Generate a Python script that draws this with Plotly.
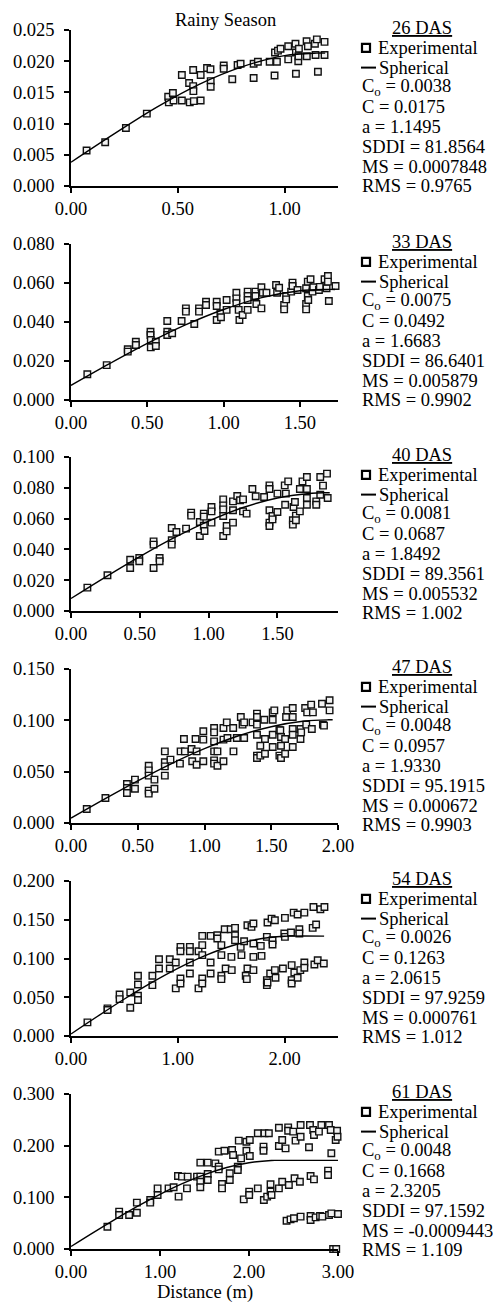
import plotly.graph_objects as go
from plotly.subplots import make_subplots

# ---- data (distance in m, semivariance) ----
x26 = [0.073,0.160,0.257,0.355,0.455,0.458,0.477,0.480,0.519,0.519,0.553,0.556,0.572,0.572,0.573,0.575,0.607,0.607,0.637,0.653,0.654,0.654,0.715,0.715,0.755,0.780,0.794,0.855,0.855,0.875,0.930,0.953,0.955,0.964,0.969,0.981,1.017,1.017,1.051,1.053,1.053,1.064,1.065,1.067,1.103,1.104,1.109,1.142,1.145,1.151,1.156,1.187,1.187]
y26 = [0.0057,0.0070,0.0093,0.0116,0.0143,0.0134,0.0149,0.0137,0.0178,0.0137,0.0165,0.0134,0.0186,0.0160,0.0152,0.0136,0.0178,0.0137,0.0189,0.0187,0.0168,0.0159,0.0193,0.0188,0.0171,0.0194,0.0196,0.0173,0.0196,0.0199,0.0199,0.0177,0.0214,0.0199,0.0217,0.0220,0.0224,0.0203,0.0228,0.0214,0.0180,0.0200,0.0208,0.0220,0.0232,0.0208,0.0224,0.0228,0.0210,0.0235,0.0183,0.0231,0.0210]

x33 = [0.107,0.234,0.372,0.372,0.425,0.425,0.521,0.521,0.523,0.523,0.556,0.556,0.631,0.631,0.631,0.663,0.725,0.753,0.753,0.808,0.839,0.839,0.885,0.885,0.955,0.955,0.955,0.979,0.983,1.020,1.020,1.084,1.084,1.084,1.099,1.104,1.125,1.158,1.158,1.158,1.158,1.209,1.209,1.215,1.248,1.248,1.257,1.281,1.344,1.351,1.364,1.397,1.397,1.410,1.410,1.443,1.452,1.452,1.485,1.541,1.541,1.541,1.552,1.552,1.555,1.570,1.583,1.588,1.625,1.631,1.662,1.675,1.684,1.684,1.690,1.734]
y33 = [0.0132,0.0179,0.0260,0.0248,0.0299,0.0282,0.0350,0.0333,0.0308,0.0270,0.0299,0.0277,0.0405,0.0350,0.0333,0.0342,0.0405,0.0470,0.0453,0.0390,0.0470,0.0453,0.0504,0.0487,0.0504,0.0482,0.0410,0.0444,0.0424,0.0513,0.0462,0.0550,0.0521,0.0496,0.0462,0.0410,0.0436,0.0556,0.0533,0.0513,0.0462,0.0556,0.0533,0.0492,0.0578,0.0470,0.0550,0.0550,0.0590,0.0550,0.0576,0.0487,0.0465,0.0533,0.0516,0.0556,0.0602,0.0585,0.0564,0.0573,0.0492,0.0465,0.0607,0.0533,0.0513,0.0619,0.0556,0.0578,0.0564,0.0580,0.0619,0.0573,0.0636,0.0607,0.0508,0.0585]

x40 = [0.119,0.265,0.430,0.430,0.496,0.496,0.600,0.600,0.600,0.644,0.644,0.732,0.732,0.732,0.766,0.836,0.873,0.873,0.936,0.936,0.965,0.965,0.965,0.970,1.021,1.021,1.021,1.106,1.106,1.106,1.106,1.106,1.131,1.131,1.177,1.177,1.177,1.208,1.228,1.250,1.250,1.276,1.318,1.342,1.403,1.442,1.442,1.442,1.442,1.442,1.464,1.464,1.500,1.500,1.553,1.556,1.561,1.578,1.612,1.612,1.617,1.627,1.634,1.634,1.663,1.663,1.682,1.714,1.714,1.714,1.714,1.782,1.782,1.811,1.811,1.831,1.860,1.865]
y40 = [0.0152,0.0232,0.0333,0.0279,0.0344,0.0323,0.0452,0.0431,0.0279,0.0344,0.0323,0.0539,0.0459,0.0431,0.0513,0.0535,0.0639,0.0619,0.0578,0.0487,0.0632,0.0613,0.0554,0.0519,0.0675,0.0647,0.0574,0.0725,0.0686,0.0660,0.0617,0.0487,0.0552,0.0517,0.0712,0.0654,0.0574,0.0747,0.0719,0.0725,0.0647,0.0632,0.0792,0.0745,0.0740,0.0816,0.0792,0.0654,0.0574,0.0552,0.0617,0.0595,0.0762,0.0643,0.0816,0.0690,0.0762,0.0842,0.0589,0.0561,0.0675,0.0708,0.0619,0.0589,0.0792,0.0647,0.0842,0.0870,0.0792,0.0734,0.0690,0.0712,0.0690,0.0870,0.0755,0.0814,0.0892,0.0734]

x47 = [0.118,0.258,0.419,0.419,0.419,0.479,0.479,0.582,0.582,0.582,0.582,0.582,0.625,0.625,0.703,0.703,0.703,0.703,0.745,0.816,0.821,0.846,0.853,0.903,0.908,0.933,0.941,0.941,0.991,0.991,0.991,1.072,1.072,1.072,1.072,1.072,1.072,1.097,1.097,1.142,1.142,1.142,1.167,1.172,1.215,1.217,1.242,1.272,1.285,1.297,1.297,1.360,1.393,1.393,1.393,1.393,1.393,1.393,1.418,1.418,1.448,1.453,1.453,1.511,1.511,1.511,1.511,1.523,1.561,1.561,1.568,1.573,1.573,1.573,1.604,1.604,1.611,1.619,1.661,1.661,1.661,1.661,1.661,1.719,1.719,1.724,1.754,1.762,1.769,1.799,1.804,1.812,1.880,1.887,1.895,1.937,1.937]
y47 = [0.0136,0.0244,0.0380,0.0341,0.0292,0.0334,0.0422,0.0558,0.0513,0.0461,0.0315,0.0286,0.0422,0.0334,0.0698,0.0591,0.0552,0.0461,0.0617,0.0578,0.0698,0.0818,0.0698,0.0721,0.0601,0.0818,0.0568,0.0698,0.0893,0.0812,0.0601,0.0925,0.0883,0.0795,0.0698,0.0610,0.0578,0.0698,0.0558,0.0925,0.0812,0.0601,0.0980,0.0828,0.0925,0.0698,0.0828,0.1032,0.0958,0.0980,0.0828,0.0980,0.1065,0.1032,0.0958,0.0860,0.0656,0.0633,0.0753,0.0656,0.1006,0.0818,0.0675,0.1078,0.1006,0.0860,0.0740,0.1097,0.0903,0.0656,0.0903,0.0838,0.0753,0.0633,0.0818,0.0675,0.1032,0.1097,0.1120,0.1032,0.0916,0.0860,0.0740,0.0916,0.0818,0.0883,0.1120,0.0958,0.1078,0.1153,0.0916,0.1078,0.1162,0.0958,0.0948,0.1195,0.1097]

x54 = [0.154,0.342,0.342,0.455,0.455,0.555,0.555,0.627,0.627,0.627,0.627,0.762,0.762,0.824,0.824,0.925,0.925,0.981,0.981,1.025,1.025,1.025,1.025,1.113,1.113,1.113,1.113,1.194,1.194,1.229,1.229,1.229,1.229,1.229,1.307,1.307,1.307,1.370,1.370,1.408,1.408,1.408,1.408,1.439,1.448,1.495,1.502,1.505,1.536,1.536,1.536,1.589,1.596,1.621,1.636,1.646,1.652,1.652,1.690,1.708,1.708,1.708,1.708,1.777,1.784,1.834,1.834,1.834,1.840,1.840,1.865,1.878,1.887,1.887,1.909,1.909,1.915,1.984,1.997,2.003,2.003,2.060,2.066,2.066,2.066,2.085,2.091,2.122,2.122,2.138,2.138,2.147,2.185,2.185,2.185,2.263,2.270,2.279,2.295,2.310,2.335,2.367,2.373]
y54 = [0.0176,0.0356,0.0335,0.0536,0.0476,0.0562,0.0365,0.0777,0.0665,0.0519,0.0464,0.0777,0.0657,0.0991,0.0871,0.0991,0.0871,0.0948,0.0614,0.1150,0.1094,0.0742,0.0678,0.1150,0.1094,0.0948,0.0807,0.1094,0.0614,0.1292,0.1172,0.1043,0.0742,0.0678,0.1292,0.0948,0.0807,0.1300,0.1258,0.1172,0.1043,0.0777,0.0734,0.1378,0.0871,0.1378,0.1021,0.0850,0.1395,0.1300,0.1236,0.1150,0.1043,0.1223,0.0777,0.0734,0.0871,0.1429,0.1408,0.1451,0.1193,0.1021,0.0850,0.1163,0.1034,0.1279,0.0721,0.0657,0.1464,0.0691,0.0807,0.1515,0.1236,0.1180,0.1494,0.0850,0.0751,0.0871,0.1322,0.1279,0.1524,0.1335,0.0914,0.0721,0.0678,0.1592,0.0820,0.1567,0.0751,0.1378,0.1322,0.0850,0.1592,0.0948,0.0880,0.1395,0.1665,0.0923,0.1438,0.0978,0.1635,0.0935,0.1665]

x61 = [0.409,0.541,0.541,0.653,0.740,0.740,0.890,0.890,0.973,0.973,1.096,1.153,1.202,1.209,1.247,1.303,1.311,1.416,1.453,1.453,1.453,1.453,1.536,1.536,1.536,1.622,1.660,1.660,1.660,1.697,1.697,1.724,1.784,1.784,1.810,1.821,1.874,1.874,1.885,1.911,1.941,1.971,1.971,2.002,2.002,2.009,2.009,2.099,2.099,2.163,2.163,2.167,2.174,2.204,2.223,2.242,2.242,2.253,2.336,2.336,2.336,2.373,2.373,2.411,2.422,2.440,2.440,2.448,2.467,2.497,2.505,2.512,2.523,2.572,2.580,2.580,2.580,2.674,2.685,2.692,2.692,2.692,2.722,2.730,2.730,2.749,2.786,2.798,2.813,2.824,2.888,2.888,2.899,2.899,2.918,2.925,2.925,2.945,2.974,2.980,2.990,2.995,3.000]
y61 = [0.0432,0.0723,0.0658,0.0658,0.0897,0.0703,0.0948,0.0897,0.1045,0.1174,0.1174,0.1194,0.1413,0.1013,0.1400,0.1174,0.1400,0.1400,0.1671,0.1400,0.1303,0.1194,0.1671,0.1452,0.1335,0.1658,0.1884,0.1594,0.1542,0.1258,0.1174,0.1903,0.1465,0.1335,0.1916,0.1819,0.1594,0.1529,0.2097,0.1755,0.0961,0.2077,0.1903,0.1110,0.1045,0.2110,0.1800,0.1174,0.2239,0.1981,0.1903,0.0948,0.2239,0.1013,0.2239,0.1252,0.1110,0.1045,0.2348,0.1994,0.1174,0.2110,0.1303,0.1948,0.0548,0.2355,0.2290,0.1239,0.0574,0.2271,0.0594,0.1368,0.2097,0.1303,0.2174,0.0626,0.2400,0.1968,0.2400,0.1413,0.0639,0.0561,0.2303,0.2206,0.1348,0.0613,0.2271,0.0639,0.2400,0.0626,0.1516,0.1432,0.2400,0.0658,0.2303,0.1852,0.0690,0.0000,0.2110,0.0000,0.2290,0.2174,0.0677]

# spherical model curves
sph26_x = [0, 0.2, 0.4, 0.6, 0.8, 1.0, 1.15, 1.19]
sph26_y = [0.0038, 0.0083, 0.0126, 0.0163, 0.0191, 0.0209, 0.0213, 0.0213]
sph33_x = [0, 0.25, 0.5, 0.75, 1.0, 1.25, 1.5, 1.67, 1.73]
sph33_y = [0.0075, 0.0185, 0.0290, 0.0385, 0.0464, 0.0525, 0.0560, 0.0567, 0.0567]
sph40_x = [0, 0.25, 0.5, 0.75, 1.0, 1.25, 1.5, 1.75, 1.85, 1.88]
sph40_y = [0.0081, 0.0220, 0.0353, 0.0476, 0.0584, 0.0672, 0.0734, 0.0765, 0.0768, 0.0768]
sph47_x = [0, 0.25, 0.5, 0.75, 1.0, 1.25, 1.5, 1.75, 1.93, 1.96]
sph47_y = [0.0048, 0.0233, 0.0411, 0.0577, 0.0724, 0.0847, 0.0938, 0.0993, 0.1005, 0.1005]
sph54_x = [0, 0.25, 0.5, 0.75, 1.0, 1.25, 1.5, 1.75, 2.0, 2.06, 2.37]
sph54_y = [0.0026, 0.0255, 0.0477, 0.0685, 0.0873, 0.1034, 0.1161, 0.1248, 0.1287, 0.1289, 0.1289]
sph61_x = [0, 0.25, 0.5, 0.75, 1.0, 1.25, 1.5, 1.75, 2.0, 2.25, 2.32, 3.0]
sph61_y = [0.0048, 0.0317, 0.0579, 0.0829, 0.1059, 0.1265, 0.1440, 0.1577, 0.1670, 0.1714, 0.1716, 0.1716]

das_labels = ["26 DAS", "33 DAS", "40 DAS", "47 DAS", "54 DAS", "61 DAS"]
c0_vals = ["0.0038", "0.0075", "0.0081", "0.0048", "0.0026", "0.0048"]
c_vals = ["0.0175", "0.0492", "0.0687", "0.0957", "0.1263", "0.1668"]
a_vals = ["1.1495", "1.6683", "1.8492", "1.9330", "2.0615", "2.3205"]
sddi_vals = ["81.8564", "86.6401", "89.3561", "95.1915", "97.9259", "97.1592"]
ms_vals = ["0.0007848", "0.005879", "0.005532", "0.000672", "0.000761", "-0.0009443"]
rms_vals = ["0.9765", "0.9902", "1.002", "0.9903", "1.012", "1.109"]

x_max = [1.25, 1.75, 1.94, 2.0, 2.5, 3.0]
x_dtick = [0.5, 0.5, 0.5, 0.5, 1.0, 1.0]
y_max = [0.025, 0.08, 0.1, 0.15, 0.2, 0.3]
y_dtick = [0.005, 0.02, 0.02, 0.05, 0.05, 0.1]

points = [(x26, y26), (x33, y33), (x40, y40), (x47, y47), (x54, y54), (x61, y61)]
curves = [(sph26_x, sph26_y), (sph33_x, sph33_y), (sph40_x, sph40_y),
          (sph47_x, sph47_y), (sph54_x, sph54_y), (sph61_x, sph61_y)]

W, H = 501, 1309
OFF = 8  # page body margin, positions below are screen pixels
FONT = "Liberation Serif"
FS = 18.5
tops = [30, 244, 457, 669, 881, 1094]
bottoms = [186, 400, 611, 823, 1036, 1249]
X0, X1 = 71, 338


def px(x):
    return (x - OFF) / W


def py(y):
    return 1 - (y - OFF) / H


fig = make_subplots(rows=6, cols=1)

for i in range(6):
    mx, my = points[i]
    assert len(mx) == len(my)
    fig.add_trace(go.Scatter(x=mx, y=my, mode="markers", cliponaxis=False,
                             marker=dict(symbol="square", size=6.5, color="#f2f2f2",
                                         line=dict(color="#111", width=1.4))),
                  row=i + 1, col=1)
    cx, cy = curves[i]
    fig.add_trace(go.Scatter(x=cx, y=cy, mode="lines", line_shape="spline",
                             line=dict(color="black", width=1.4)),
                  row=i + 1, col=1)

    axis_style = dict(showline=True, linecolor="black", linewidth=1.5, ticks="outside",
                      ticklen=5, tickwidth=1.5, tickcolor="black", showgrid=False,
                      zeroline=False, automargin=False,
                      tickfont=dict(family=FONT, size=FS, color="black"))
    fig.update_xaxes(domain=[px(X0), px(X1)], range=[0, x_max[i]], tick0=0, dtick=x_dtick[i],
                     tickformat=".2f", row=i + 1, col=1, **axis_style)
    fig.update_yaxes(domain=[py(bottoms[i]), py(tops[i])], range=[0, y_max[i]], tick0=0,
                     dtick=y_dtick[i], tickformat=".3f", ticklabelstandoff=6,
                     row=i + 1, col=1, **axis_style)

annotations = []
shapes = []


def text(x, y, s, anchor="left", vanchor="middle"):
    annotations.append(dict(x=px(x), y=py(y), xref="paper", yref="paper", text=s,
                            showarrow=False, xanchor=anchor, yanchor=vanchor,
                            font=dict(family=FONT, size=FS, color="black")))


for i in range(6):
    t = tops[i]
    step = 19.8
    text(422, t - 2, "<u>" + das_labels[i] + "</u>", "center")
    shapes.append(dict(type="rect", xref="paper", yref="paper",
                       x0=px(362), x1=px(370), y0=py(t - 2 + step + 4), y1=py(t - 2 + step - 4),
                       line=dict(color="black", width=2.2), fillcolor="white"))
    text(376, t - 2 + step, "Experimental")
    shapes.append(dict(type="line", xref="paper", yref="paper",
                       x0=px(361), x1=px(376), y0=py(t - 2 + 2 * step), y1=py(t - 2 + 2 * step),
                       line=dict(color="black", width=2)))
    text(377, t - 2 + 2 * step, "Spherical")
    text(360, t - 2 + 3 * step, "C<sub>o</sub> = " + c0_vals[i])
    text(360, t - 2 + 4 * step, "C = " + c_vals[i])
    text(360, t - 2 + 5 * step, "a = " + a_vals[i])
    text(360, t - 2 + 6 * step, "SDDI = " + sddi_vals[i])
    text(360, t - 2 + 7 * step, "MS = " + ms_vals[i])
    text(360, t - 2 + 8 * step, "RMS = " + rms_vals[i])

text(225, 8, "Rainy Season", "center", "top")
text(205, 1292, "Distance (m)", "center")

fig.update_layout(width=W, height=H, margin=dict(l=0, r=0, t=0, b=0),
                  paper_bgcolor="white", plot_bgcolor="white", showlegend=False,
                  font=dict(family=FONT, color="black"),
                  annotations=annotations, shapes=shapes)

fig.write_html("out.html")
